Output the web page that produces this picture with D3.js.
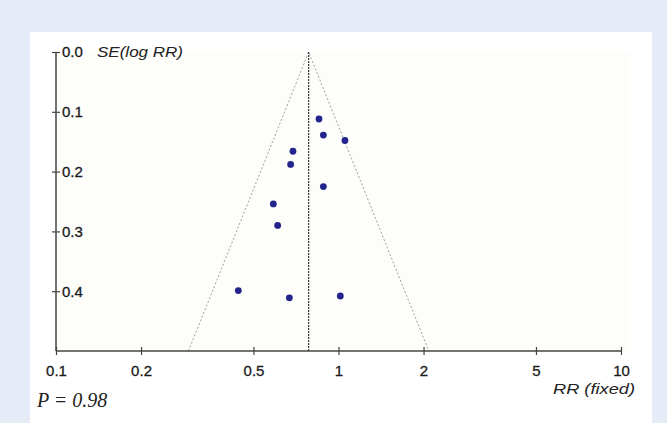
<!DOCTYPE html>
<html>
<head>
<meta charset="utf-8">
<script src="https://cdn.jsdelivr.net/npm/d3@7"></script>
<style>
  html, body { margin: 0; padding: 0; background: #e6ecf7; }
  svg { display: block; }
</style>
</head>
<body>
<div id="app"></div>
<script>
// study estimates
const rr = [0.853, 0.884, 1.054, 0.690, 0.677, 0.884, 0.588, 0.609, 0.442, 0.670, 1.015];
const se = [0.112, 0.139, 0.148, 0.166, 0.188, 0.225, 0.254, 0.290, 0.399, 0.411, 0.408];
const pooledRR = 0.784;
const xTicks = [0.1, 0.2, 0.5, 1, 2, 5, 10];
const yTicks = [0, 0.1, 0.2, 0.3, 0.4];
const pText = 'P = 0.98';

const width = 667;
const height = 423;
const plot = { left: 56, right: 621, top: 52, bottom: 351 };
const sans = '"Liberation Sans", Arial, sans-serif';

const svg = d3.select('#app').append('svg')
  .attr('width', width)
  .attr('height', height);

// background + white panel
svg.append('rect')
  .attr('width', width).attr('height', height)
  .attr('fill', '#e6ecf7');
svg.append('rect')
  .attr('x', 30).attr('y', 32)
  .attr('width', 622).attr('height', height - 32)
  .attr('fill', '#ffffff');
svg.append('rect')
  .attr('x', plot.left).attr('y', plot.top)
  .attr('width', 630 - plot.left).attr('height', plot.bottom - plot.top)
  .attr('fill', '#fdfdfa');

const x = d3.scaleLog()
  .domain([0.1, 10])
  .range([plot.left, plot.right]);

const y = d3.scaleLinear()
  .domain([0, 0.5])
  .range([plot.top, plot.bottom]);

// funnel (pseudo 95% limits)
const lnPooled = Math.log(pooledRR);
const seMax = y.domain()[1];
const funnel = [
  [Math.exp(lnPooled - 1.96 * seMax), seMax],
  [pooledRR, 0],
  [Math.exp(lnPooled + 1.96 * seMax), seMax]
];
svg.append('path')
  .attr('d', d3.line().x(d => x(d[0])).y(d => y(d[1]))(funnel))
  .attr('fill', 'none')
  .attr('stroke', '#a0a0a0')
  .attr('stroke-width', 1)
  .attr('stroke-dasharray', '2,2');

svg.append('line')
  .attr('x1', x(pooledRR)).attr('x2', x(pooledRR))
  .attr('y1', y(0)).attr('y2', y(seMax))
  .attr('stroke', '#333')
  .attr('stroke-width', 1.2)
  .attr('stroke-dasharray', '2,1');

// points
svg.append('g')
  .selectAll('circle')
  .data(rr.map((v, i) => ({ rr: v, se: se[i] })))
  .join('circle')
  .attr('cx', d => x(d.rr))
  .attr('cy', d => y(d.se))
  .attr('r', 3.4)
  .attr('fill', '#23238c');

// x axis
const xAxis = d3.axisBottom(x)
  .tickValues(xTicks)
  .tickFormat(d3.format('~g'))
  .tickSize(4)
  .tickPadding(10);
const gx = svg.append('g')
  .attr('transform', `translate(0,${plot.bottom})`)
  .call(xAxis);
gx.select('.domain').attr('d', `M${plot.left},0H${plot.right}`).attr('stroke', '#444').attr('stroke-width', 1.5);
gx.selectAll('.tick line').attr('y1', -4).attr('y2', 4).attr('stroke', '#444').attr('stroke-width', 1.2);
gx.selectAll('.tick text')
  .attr('fill', '#1a1a1a')
  .style('font', `15px ${sans}`)
  .attr('stroke', '#1a1a1a').attr('stroke-width', 0.3);

// y axis, labels sit on the right of the line
const yAxis = d3.axisRight(y)
  .tickValues(yTicks)
  .tickFormat(d3.format('.1f'))
  .tickSize(4)
  .tickPadding(2);
const gy = svg.append('g')
  .attr('transform', `translate(${plot.left},0)`)
  .call(yAxis);
gy.select('.domain').attr('d', `M0,${plot.top}V${plot.bottom}`).attr('stroke', '#444').attr('stroke-width', 1.5);
gy.selectAll('.tick line').attr('x1', -4).attr('x2', 4).attr('stroke', '#444').attr('stroke-width', 1.2);
gy.selectAll('.tick text')
  .attr('fill', '#1a1a1a')
  .style('font', `15px ${sans}`)
  .attr('stroke', '#1a1a1a').attr('stroke-width', 0.3);

// axis titles
svg.append('text')
  .attr('x', 97).attr('y', plot.top + 5)
  .attr('fill', '#222')
  .attr('textLength', 86)
  .attr('lengthAdjust', 'spacingAndGlyphs')
  .style('font', `italic 15px ${sans}`)
  .text('SE(log RR)');

svg.append('text')
  .attr('x', 553).attr('y', 394)
  .attr('fill', '#222')
  .attr('textLength', 82)
  .attr('lengthAdjust', 'spacingAndGlyphs')
  .style('font', `italic 15px ${sans}`)
  .text('RR (fixed)');

svg.append('text')
  .attr('x', 37).attr('y', 407)
  .attr('fill', '#222')
  .style('font', 'italic 20px "Liberation Serif", "Times New Roman", serif')
  .text(pText);
</script>
</body>
</html>
